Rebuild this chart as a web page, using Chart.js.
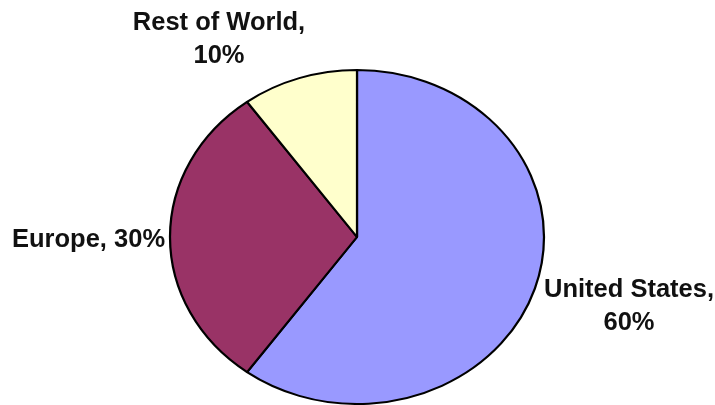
<!DOCTYPE html>
<html>
<head>
<meta charset="utf-8">
<script src="https://cdn.jsdelivr.net/npm/chart.js@4/dist/chart.umd.min.js"></script>
<style>
    html, body { margin: 0; padding: 0; background: #fff; }
</style>
</head>
<body>
<canvas id="shareChart" width="715" height="405"></canvas>
<script>
// Market share by region
const regions = ['United States', 'Europe', 'Rest of World'];
const shares = [60, 30, 10];

const sliceColors = ['#9999ff', '#993366', '#ffffcc'];

// where each label sits (canvas px) and whether it wraps onto two lines
const labelSpots = [
    { x: 629, y: 297, align: 'center', wrap: true },
    { x: 12, y: 247, align: 'left', wrap: false },
    { x: 219, y: 30, align: 'center', wrap: true }
];

// the original pie is a bit wider than tall, stretch horizontally
const stretchX = {
    id: 'stretchX',
    beforeDatasetsDraw(chart) {
        const { ctx, chartArea } = chart;
        const cx = (chartArea.left + chartArea.right) / 2;
        ctx.save();
        ctx.translate(cx, 0);
        ctx.scale(187 / 167, 1);
        ctx.translate(-cx, 0);
    },
    afterDatasetsDraw(chart) {
        chart.ctx.restore();
    }
};

const sliceLabels = {
    id: 'sliceLabels',
    afterDraw(chart) {
        const ctx = chart.ctx;
        ctx.save();
        ctx.font = 'bold 25.5px "Liberation Sans", Arial, sans-serif';
        ctx.fillStyle = '#111';
        ctx.textBaseline = 'alphabetic';
        regions.forEach((name, i) => {
            const spot = labelSpots[i];
            ctx.textAlign = spot.align;
            if (spot.wrap) {
                ctx.fillText(name + ',', spot.x, spot.y);
                ctx.fillText(shares[i] + '%', spot.x, spot.y + 33);
            } else {
                ctx.fillText(name + ', ' + shares[i] + '%', spot.x, spot.y);
            }
        });
        ctx.restore();
    }
};

new Chart(document.getElementById('shareChart'), {
    type: 'pie',
    data: {
        labels: regions,
        datasets: [{
            data: shares,
            backgroundColor: sliceColors,
            borderColor: '#000',
            borderWidth: 2
        }]
    },
    options: {
        responsive: false,
        animation: false,
        layout: {
            padding: { left: 170, right: 171, top: 69, bottom: 0 }
        },
        plugins: {
            legend: { display: false },
            tooltip: { enabled: false }
        }
    },
    plugins: [stretchX, sliceLabels]
});
</script>
</body>
</html>
